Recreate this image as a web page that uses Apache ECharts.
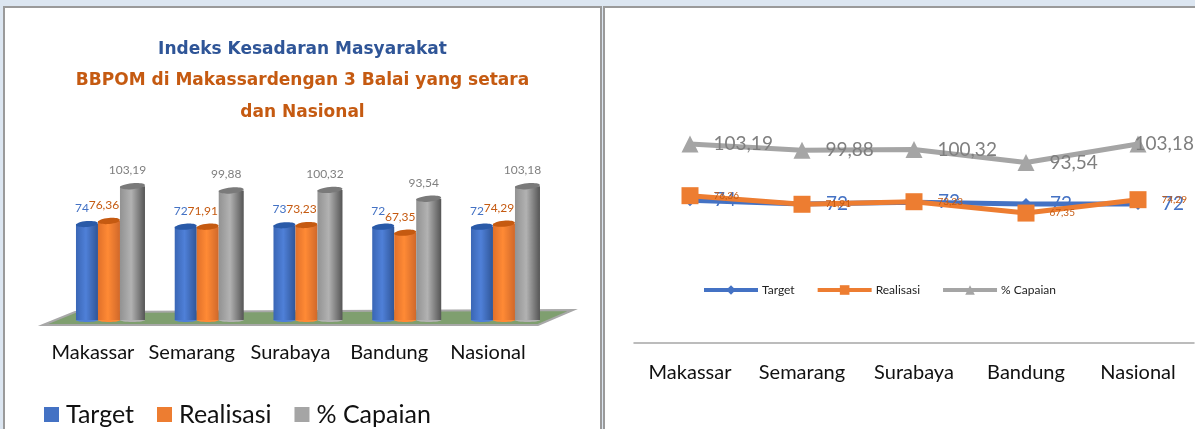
<!DOCTYPE html>
<html lang="en">
<head>
<meta charset="UTF-8">
<title>Indeks Kesadaran Masyarakat</title>
<script src="https://cdn.jsdelivr.net/npm/echarts@6/dist/echarts.min.js"></script>
<style>
    html, body { margin: 0; padding: 0; width: 1195px; height: 429px; overflow: hidden; background: #dce6f1; }
    .panel { position: absolute; top: 6px; height: 430px; background: #fff; border: 2px solid #9a9a9a; box-sizing: border-box; }
    #left { left: 3px; width: 599px; }
    #right { left: 603px; width: 601px; }
</style>
</head>
<body>
<div id="left" class="panel"></div>
<div id="right" class="panel"></div>
<script type="text/javascript">
    var categories = ['Makassar', 'Semarang', 'Surabaya', 'Bandung', 'Nasional'];
    var target = [74, 72, 73, 72, 72];
    var realisasi = [76.36, 71.91, 73.23, 67.35, 74.29];
    var capaian = [103.19, 99.88, 100.32, 93.54, 103.18];

    var fontName = 'Lato';
    var blue = '#4472c4', orange = '#ed7d31', gray = '#a5a5a5';

    function koma(v) {
        return Number.isInteger(v) ? String(v) : v.toFixed(2).replace('.', ',');
    }

    // silinder: badan + tutup elips, posisi dari skala sumbu
    function cylinder(values, x0, x1, colors, textColor) {
        return function (params, api) {
            var top = api.coord([api.value(0), values[params.dataIndex]]);
            var base = api.coord([api.value(0), 0]);
            var left = top[0] + x0, w = x1 - x0;
            var grad = new echarts.graphic.LinearGradient(0, 0, 1, 0, [
                { offset: 0, color: colors[0] },
                { offset: 0.45, color: colors[1] },
                { offset: 1, color: colors[2] }
            ]);
            return {
                type: 'group',
                children: [
                    { type: 'ellipse', shape: { cx: left + w / 2, cy: base[1], rx: w / 2, ry: 2 }, style: { fill: colors[1] } },
                    { type: 'rect', shape: { x: left, y: top[1], width: w, height: base[1] - top[1] }, style: { fill: grad } },
                    { type: 'ellipse', shape: { cx: 0, cy: 0, rx: w / 2, ry: 3 }, x: left + w / 2, y: top[1], rotation: 0.09, style: { fill: colors[3] } },
                    { type: 'text', x: left + w / 2 - 5, y: top[1] - 16, z2: 50, style: { text: koma(values[params.dataIndex]), fill: textColor, font: '12px ' + fontName, align: 'center', verticalAlign: 'middle' } }
                ]
            };
        };
    }

    var leftChart = echarts.init(document.getElementById('left'));
    leftChart.setOption({
        animation: false,
        title: [
            { text: 'Indeks Kesadaran Masyarakat', left: 'center', top: 28, textStyle: { color: '#2f5597', fontFamily: 'DejaVu Sans', fontWeight: 'bold', fontSize: 17 } },
            { text: 'BBPOM di Makassardengan 3 Balai yang setara', left: 'center', top: 59, textStyle: { color: '#c55a11', fontFamily: 'DejaVu Sans', fontWeight: 'bold', fontSize: 17 } },
            { text: 'dan Nasional', left: 'center', top: 91, textStyle: { color: '#c55a11', fontFamily: 'DejaVu Sans', fontWeight: 'bold', fontSize: 17 } }
        ],
        legend: {
            left: 34, top: 389, icon: 'rect', itemWidth: 15, itemHeight: 15, itemGap: 23,
            textStyle: { fontFamily: fontName, fontSize: 25, color: '#111', padding: [0, 0, 0, 2] },
            data: ['Target', 'Realisasi', '% Capaian']
        },
        grid: { left: 54.6, width: 493.75, top: 156.4, height: 155.6 },
        xAxis: {
            type: 'category', data: categories,
            axisLine: { show: false }, axisTick: { show: false },
            axisLabel: { color: '#111', fontFamily: fontName, fontSize: 20, margin: 23, padding: [0, 32, 0, 0], interval: 0 }
        },
        yAxis: { type: 'value', min: 0, max: 120, show: false },
        graphic: [
            { type: 'polygon', shape: { points: [[38, 317], [70, 304], [568, 302], [533, 317]] }, style: { fill: '#7f9f6f', stroke: '#a8a8a8', lineWidth: 2 } }
        ],
        series: [
            { name: 'Target', type: 'custom', data: target.map(function (v, i) { return [i, v]; }), itemStyle: { color: blue },
              renderItem: cylinder(target, -33, -11, ['#3a66b5', '#4f80d8', '#2f5597', '#2a5aa8'], blue) },
            { name: 'Realisasi', type: 'custom', data: realisasi.map(function (v, i) { return [i, v]; }), itemStyle: { color: orange },
              renderItem: cylinder(realisasi, -11, 11, ['#e0702a', '#ff8a35', '#d0682a', '#c55a11'], '#c55a11') },
            { name: '% Capaian', type: 'custom', data: capaian.map(function (v, i) { return [i, v]; }), itemStyle: { color: gray },
              renderItem: cylinder(capaian, 11, 36, ['#929292', '#b2b2b2', '#555555', '#7a7a7a'], '#7f7f7f') }
        ]
    });

    var rightChart = echarts.init(document.getElementById('right'));
    function lineLabel(size, color, distance) {
        return { show: true, position: 'right', distance: distance, fontFamily: fontName, fontSize: size, color: color,
                 formatter: function (p) { return koma(p.value); } };
    }
    rightChart.setOption({
        animation: false,
        legend: {
            left: 92, top: 271, itemWidth: 54, itemHeight: 12, itemGap: 21,
            lineStyle: { width: 4 },
            textStyle: { fontFamily: fontName, fontSize: 12, color: '#222', padding: [0, 0, 0, -1] },
            data: ['Target', 'Realisasi', '% Capaian']
        },
        grid: { left: 29, width: 560, top: 103.5, height: 231.5 },
        xAxis: {
            type: 'category', data: categories,
            axisLine: { lineStyle: { color: '#a6a6a6', width: 1.5 } }, axisTick: { show: false },
            axisLabel: { color: '#111', fontFamily: fontName, fontSize: 20, margin: 20, interval: 0 }
        },
        yAxis: { type: 'value', min: 0, max: 120, show: false },
        series: [
            { name: 'Target', type: 'line', data: target, color: blue, symbol: 'diamond', symbolSize: 12, lineStyle: { width: 5 }, label: lineLabel(19, blue, 18), z: 2 },
            { name: 'Realisasi', type: 'line', data: realisasi, color: orange, symbol: 'rect', symbolSize: 17, lineStyle: { width: 5 }, label: lineLabel(10, '#c55a11', 15), z: 3 },
            { name: '% Capaian', type: 'line', color: gray, symbol: 'triangle', symbolSize: 17, lineStyle: { width: 5 }, label: lineLabel(19, '#7f7f7f', 15), z: 4,
              data: capaian.map(function (v, i) {
                  // label terakhir digeser supaya masih muat di panel
                  return i === capaian.length - 1 ? { value: v, label: { offset: [-27, 0] } } : v;
              }) }
        ]
    });
</script>
</body>
</html>
